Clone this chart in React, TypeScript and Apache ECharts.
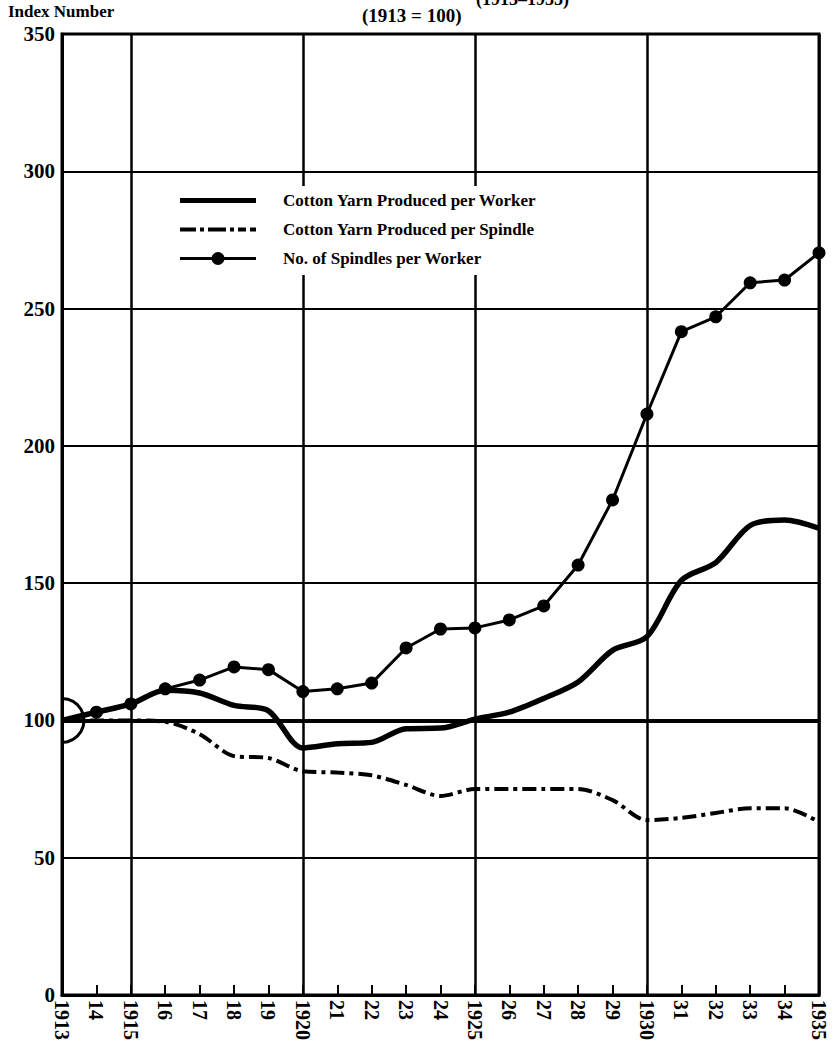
import React, { useEffect, useRef } from "react";
import * as echarts from "echarts";

const years = ["1913","1914","1915","1916","1917","1918","1919","1920","1921","1922","1923","1924","1925","1926","1927","1928","1929","1930","1931","1932","1933","1934","1935"];
const yearLabels = ["1913","14","1915","16","17","18","19","1920","21","22","23","24","1925","26","27","28","29","1930","31","32","33","34","1935"];
const perWorker = [100,103,106,111,110,105.5,103.5,90,91.5,92,97,97.2,100.5,103,108,114,125.5,130.5,151,157.5,171,173,170];
const perSpindle = [100,100,100,99.5,95,87,86.3,81.5,81,80,76.5,72.5,75,75,75,75,71,63.7,64.5,66.3,68,68,63];
const spindlesPerWorker = [100,103,106,111.5,114.7,119.5,118.5,110.5,111.5,113.6,126.4,133.3,133.7,136.6,141.7,156.6,180.3,211.6,241.6,247,259.4,260.4,270.3];
const seriesNames = ["Cotton Yarn Produced per Worker","Cotton Yarn Produced per Spindle","No. of Spindles per Worker"];

const SERIF = "'Liberation Serif', 'DejaVu Serif', serif";

// tiny corner marks keep each icon's box at 76x14
const CORNERS = "M0,0 L0.05,0 L0.05,0.05 Z M76,14 L75.95,14 L75.95,13.95 Z ";
const ICON_SOLID = "path://" + CORNERS + "M0,4.5 L76,4.5 L76,9.5 L0,9.5 Z";
const ICON_DASHDOT = "path://" + CORNERS +
  "M0,5 L16,5 L16,9 L0,9 Z M20,5 L24,5 L24,9 L20,9 Z M28,5 L46,5 L46,9 L28,9 Z M50,5 L54,5 L54,9 L50,9 Z M58,5 L66,5 L66,9 L58,9 Z M70,5 L76,5 L76,9 L70,9 Z";
const ICON_DOT = "path://" + CORNERS +
  "M0,5.5 L33,5.5 L33,8.5 L0,8.5 Z M43,5.5 L76,5.5 L76,8.5 L43,8.5 Z " +
  "M44.5,7 A6.5,6.5 0 1 1 31.5,7 A6.5,6.5 0 1 1 44.5,7 Z";
// right half of a circle; the lone move-to keeps the box symmetric round the point
const HALF_CIRCLE = "path://M-10,10 M0,0 L2.59,0.34 L5,1.34 L7.07,2.93 L8.66,5 L9.66,7.41 L10,10 L9.66,12.59 L8.66,15 L7.07,17.07 L5,18.66 L2.59,19.66 L0,20";

export default function App() {
  const ref = useRef<HTMLDivElement>(null);
  useEffect(() => {
    if (!ref.current) return;
    const chart = echarts.init(ref.current, undefined, { renderer: "svg" });
    chart.setOption({
      animation: false,
      backgroundColor: "#fff",
      grid: { left: 62, right: 13, top: 34, bottom: 57, show: true, borderColor: "#000", borderWidth: 3, backgroundColor: "transparent" },
      graphic: [
        { type: "text", left: 8, top: 3, style: { text: "Index Number", font: `bold 17px ${SERIF}`, fill: "#000" } },
        { type: "text", left: 362, top: 6, style: { text: "(1913 = 100)", font: `bold 19px ${SERIF}`, fill: "#000" } },
        { type: "text", left: 476, top: -10, style: { text: "(1913–1935)", font: `bold 18px ${SERIF}`, fill: "#000" } },
      ],
      legend: {
        orient: "vertical",
        left: 168,
        top: 186,
        itemWidth: 76,
        itemHeight: 14,
        itemGap: 12,
        padding: [6, 14, 8, 12],
        backgroundColor: "#fff",
        itemStyle: { borderWidth: 0 },
        data: [
          { name: seriesNames[0], icon: ICON_SOLID },
          { name: seriesNames[1], icon: ICON_DASHDOT },
          { name: seriesNames[2], icon: ICON_DOT },
        ],
        textStyle: { fontFamily: SERIF, fontSize: 17, fontWeight: "bold", color: "#000", padding: [0, 0, 0, 22] },
      },
      xAxis: {
        type: "category",
        data: years,
        boundaryGap: false,
        axisLine: { show: true, lineStyle: { color: "#000", width: 3 } },
        axisTick: { show: true, inside: true, length: 10, interval: 0, lineStyle: { color: "#000", width: 2 } },
        axisLabel: {
          interval: 0,
          rotate: -90,
          margin: 5,
          fontFamily: SERIF,
          fontSize: 20,
          fontWeight: "bold",
          color: "#000",
          formatter: (_v: string, i: number) => yearLabels[i],
        },
        splitLine: {
          show: true,
          interval: (i: number) => Number(years[i]) % 5 === 0,
          lineStyle: { color: "#000", width: 2.5 },
        },
      },
      yAxis: {
        type: "value",
        min: 0,
        max: 350,
        interval: 50,
        axisLine: { show: true, lineStyle: { color: "#000", width: 3 } },
        axisTick: { show: false },
        axisLabel: { fontFamily: SERIF, fontSize: 21, fontWeight: "bold", color: "#000", margin: 7 },
        splitLine: { show: true, lineStyle: { color: "#000", width: 2.2 } },
      },
      series: [
        {
          name: seriesNames[0],
          type: "line",
          data: perWorker,
          symbol: "none",
          smooth: 0.3,
          lineStyle: { color: "#000", width: 5.5 },
          itemStyle: { color: "#000" },
          markLine: {
            silent: true,
            symbol: "none",
            label: { show: false },
            lineStyle: { color: "#000", width: 4, type: "solid" },
            data: [{ yAxis: 100 }],
          },
          z: 3,
        },
        {
          name: seriesNames[1],
          type: "line",
          data: perSpindle,
          symbol: "none",
          smooth: 0.3,
          lineStyle: { color: "#000", width: 4, type: [14, 5, 4, 5] },
          itemStyle: { color: "#000" },
          z: 3,
        },
        {
          name: seriesNames[2],
          type: "line",
          data: spindlesPerWorker.map((v, i) => (i === 0 ? { value: v, symbol: "none" } : v)),
          symbol: "circle",
          symbolSize: 13,
          showAllSymbol: true,
          lineStyle: { color: "#000", width: 3 },
          itemStyle: { color: "#000" },
          markPoint: {
            symbol: HALF_CIRCLE,
            symbolSize: [44, 44],
            symbolKeepAspect: false,
            label: { show: false },
            itemStyle: { color: "none", borderColor: "#000", borderWidth: 3 },
            data: [{ coord: ["1913", 100] }],
          },
          z: 4,
        },
      ],
    });
    return () => chart.dispose();
  }, []);
  return <div ref={ref} style={{ position: "fixed", left: 0, top: 0, width: 832, height: 1052 }} />;
}
